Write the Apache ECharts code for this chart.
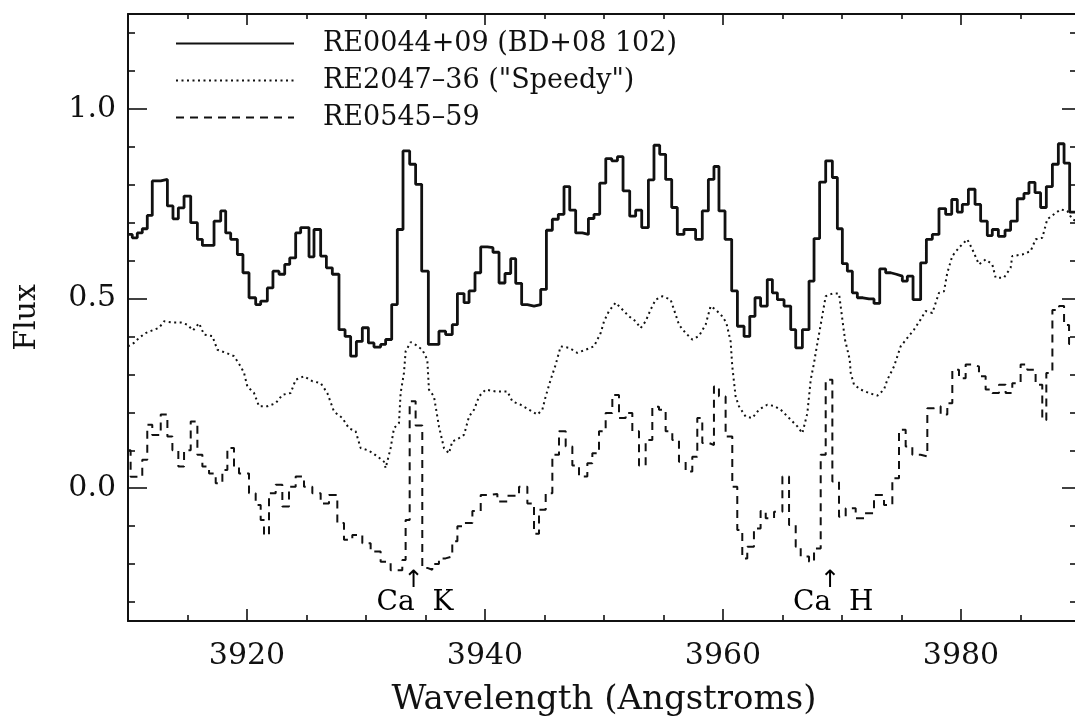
<!DOCTYPE html>
<html>
<head>
<meta charset="utf-8">
<script src="https://cdn.jsdelivr.net/npm/echarts@6/dist/echarts.min.js"></script>
<style>
html, body { margin: 0; padding: 0; background: #ffffff; }
#chart { width: 1075px; height: 722px; }
</style>
</head>
<body>
<div id="chart"></div>
<script>
// ---------------- data ----------------
const seriesNames = ['RE0044+09 (BD+08 102)', 'RE2047\u201336 ("Speedy")', 'RE0545\u201359'];

const xMajorTicks = [3920, 3940, 3960, 3980];
const xMinorTicks = [3915, 3925, 3930, 3935, 3945, 3950, 3955, 3965, 3970, 3975, 3985];
const yMajorTicks = [0, 0.5, 1.0];
const yMinorTicks = [-0.3, -0.2, -0.1, 0.1, 0.2, 0.3, 0.4, 0.6, 0.7, 0.8, 0.9, 1.1, 1.2];

// RE0044+09: bin left edges (Angstrom) and flux (histogram steps)
const solidWave = [3910.0, 3910.36, 3910.78, 3911.20, 3911.62, 3912.04, 3912.75, 3913.31, 3913.78, 3914.23,
  3914.71, 3915.27, 3915.83, 3916.25, 3917.23, 3917.79, 3918.21, 3918.63, 3919.19, 3919.66,
  3920.17, 3920.73, 3921.15, 3921.71, 3922.18, 3922.69, 3923.17, 3923.59, 3924.09, 3924.51,
  3925.21, 3925.63, 3926.19, 3926.67, 3927.17, 3927.73, 3928.24, 3928.71, 3929.19, 3929.69,
  3930.20, 3930.67, 3931.23, 3931.65, 3932.16, 3932.63, 3933.11, 3933.67, 3934.17, 3934.68,
  3935.24, 3936.13, 3936.69, 3937.25, 3937.68, 3938.24, 3938.66, 3939.16, 3939.64, 3940.20,
  3940.67, 3941.18, 3941.68, 3942.16, 3942.58, 3943.08, 3943.56, 3944.12, 3944.68, 3945.16,
  3945.66, 3946.16, 3946.64, 3947.12, 3947.62, 3948.18, 3948.69, 3949.16, 3949.64, 3950.15,
  3950.65, 3951.13, 3951.60, 3952.16, 3952.66, 3953.17, 3953.73, 3954.20, 3954.68, 3955.18,
  3955.69, 3956.16, 3956.72, 3957.20, 3957.70, 3958.26, 3958.77, 3959.24, 3959.66, 3960.17,
  3960.73, 3961.21, 3961.77, 3962.25, 3962.69, 3963.16, 3963.72, 3964.15, 3964.57, 3965.13,
  3965.69, 3966.11, 3966.67, 3967.23, 3967.65, 3968.12, 3968.63, 3969.19, 3969.61, 3970.03,
  3970.45, 3970.87, 3971.29, 3971.76, 3972.27, 3972.69, 3973.17, 3973.67, 3974.09, 3974.57,
  3975.07, 3975.49, 3975.97, 3976.61, 3977.09, 3977.59, 3978.15, 3978.71, 3979.22, 3979.69,
  3980.11, 3980.62, 3981.18, 3981.65, 3982.21, 3982.63, 3983.14, 3983.70, 3984.17, 3984.73,
  3985.29, 3985.71, 3986.22, 3986.69, 3987.17, 3987.68, 3988.18, 3988.66, 3989.13, 3990.0];
const solidFlux = [0.669, 0.660, 0.673, 0.684, 0.719, 0.810, 0.814, 0.744, 0.710, 0.739,
  0.770, 0.700, 0.656, 0.640, 0.704, 0.731, 0.673, 0.656, 0.616, 0.568,
  0.502, 0.484, 0.493, 0.528, 0.572, 0.564, 0.590, 0.607, 0.673, 0.687,
  0.610, 0.682, 0.612, 0.581, 0.564, 0.418, 0.400, 0.348, 0.387, 0.423,
  0.383, 0.372, 0.379, 0.392, 0.484, 0.682, 0.889, 0.854, 0.801, 0.572,
  0.379, 0.414, 0.405, 0.431, 0.513, 0.489, 0.520, 0.568, 0.636, 0.634,
  0.622, 0.541, 0.566, 0.605, 0.540, 0.484, 0.480, 0.484, 0.524, 0.680,
  0.709, 0.722, 0.795, 0.733, 0.673, 0.669, 0.711, 0.722, 0.804, 0.869,
  0.863, 0.874, 0.784, 0.717, 0.733, 0.687, 0.813, 0.904, 0.880, 0.814,
  0.740, 0.669, 0.682, 0.682, 0.656, 0.731, 0.814, 0.848, 0.731, 0.656,
  0.520, 0.427, 0.400, 0.453, 0.502, 0.480, 0.550, 0.515, 0.497, 0.480,
  0.418, 0.370, 0.418, 0.546, 0.658, 0.807, 0.863, 0.819, 0.684, 0.592,
  0.572, 0.515, 0.502, 0.499, 0.499, 0.487, 0.578, 0.568, 0.564, 0.559,
  0.546, 0.559, 0.497, 0.594, 0.656, 0.669, 0.737, 0.722, 0.761, 0.728,
  0.748, 0.788, 0.748, 0.704, 0.666, 0.682, 0.664, 0.680, 0.704, 0.763,
  0.777, 0.806, 0.779, 0.740, 0.795, 0.854, 0.908, 0.857, 0.728, 0.728];

// RE2047-36 ("Speedy")
const dottedWave = [3910.0, 3910.50, 3910.92, 3911.48, 3912.04, 3912.61, 3913.03, 3913.73, 3914.43, 3914.99,
  3915.46, 3915.97, 3916.39, 3917.09, 3917.51, 3918.21, 3918.91, 3919.47, 3919.75, 3920.03,
  3920.59, 3921.01, 3921.71, 3922.41, 3922.97, 3923.67, 3924.09, 3924.79, 3925.49, 3926.19,
  3926.75, 3927.31, 3928.01, 3928.57, 3929.13, 3929.55, 3930.25, 3930.95, 3931.51, 3931.65,
  3932.07, 3932.35, 3932.77, 3932.91, 3933.19, 3933.33, 3933.75, 3934.17, 3934.73, 3935.15,
  3935.29, 3935.71, 3936.13, 3936.55, 3936.97, 3937.25, 3937.82, 3938.24, 3938.66, 3939.08,
  3939.50, 3940.06, 3940.90, 3941.88, 3942.30, 3943.00, 3943.70, 3944.40, 3944.82, 3945.10,
  3945.52, 3945.94, 3946.36, 3947.06, 3947.76, 3948.46, 3949.16, 3949.72, 3950.00, 3950.42,
  3950.98, 3951.54, 3952.10, 3952.66, 3953.08, 3953.50, 3953.92, 3954.34, 3954.90, 3955.60,
  3955.88, 3956.30, 3956.86, 3957.42, 3957.98, 3958.54, 3958.96, 3959.38, 3959.94, 3960.28,
  3960.64, 3960.78, 3961.06, 3961.34, 3961.90, 3962.46, 3963.02, 3963.72, 3964.29, 3964.85,
  3965.55, 3966.25, 3966.67, 3967.09, 3967.37, 3967.65, 3967.79, 3968.21, 3968.63, 3969.19,
  3969.75, 3970.03, 3970.25, 3970.65, 3970.73, 3971.01, 3971.57, 3972.27, 3972.97, 3973.53,
  3973.81, 3974.23, 3974.37, 3974.93, 3975.49, 3976.05, 3976.61, 3977.03, 3977.59, 3978.15,
  3978.57, 3978.85, 3979.27, 3979.83, 3980.53, 3980.95, 3981.51, 3982.07, 3982.63, 3982.91,
  3983.61, 3984.17, 3984.31, 3985.15, 3985.85, 3986.27, 3986.83, 3987.25, 3987.81, 3988.37,
  3988.93, 3989.35, 3990.0];
const dottedFlux = [0.374, 0.383, 0.396, 0.409, 0.416, 0.423, 0.440, 0.437, 0.437, 0.431,
  0.416, 0.435, 0.405, 0.401, 0.365, 0.357, 0.348, 0.321, 0.304, 0.268,
  0.251, 0.216, 0.216, 0.224, 0.246, 0.251, 0.286, 0.295, 0.282, 0.277,
  0.251, 0.202, 0.185, 0.158, 0.150, 0.106, 0.099, 0.084, 0.070, 0.053,
  0.106, 0.158, 0.172, 0.251, 0.304, 0.361, 0.385, 0.378, 0.365, 0.339,
  0.260, 0.242, 0.163, 0.106, 0.092, 0.123, 0.132, 0.141, 0.189, 0.207,
  0.242, 0.260, 0.255, 0.255, 0.229, 0.220, 0.207, 0.194, 0.207, 0.242,
  0.286, 0.326, 0.374, 0.370, 0.357, 0.365, 0.374, 0.409, 0.440, 0.467,
  0.489, 0.471, 0.453, 0.440, 0.422, 0.440, 0.471, 0.497, 0.506, 0.497,
  0.471, 0.431, 0.409, 0.392, 0.401, 0.431, 0.480, 0.471, 0.453, 0.436,
  0.387, 0.321, 0.242, 0.216, 0.189, 0.185, 0.207, 0.220, 0.217, 0.207,
  0.185, 0.163, 0.145, 0.198, 0.286, 0.330, 0.357, 0.431, 0.506, 0.513,
  0.513, 0.445, 0.392, 0.339, 0.304, 0.273, 0.260, 0.251, 0.244, 0.260,
  0.286, 0.312, 0.321, 0.374, 0.396, 0.418, 0.445, 0.467, 0.462, 0.515,
  0.519, 0.568, 0.612, 0.634, 0.656, 0.630, 0.590, 0.603, 0.590, 0.555,
  0.555, 0.581, 0.612, 0.616, 0.625, 0.656, 0.660, 0.709, 0.722, 0.735,
  0.731, 0.709, 0.700];

// RE0545-59: bin left edges and flux (histogram steps)
const dashedWave = [3910.0, 3910.22, 3911.20, 3911.62, 3912.04, 3912.75, 3913.31, 3913.73, 3914.23, 3914.71,
  3915.27, 3915.83, 3916.25, 3916.81, 3917.37, 3917.93, 3918.35, 3918.91, 3919.33, 3920.17,
  3920.73, 3921.15, 3921.43, 3921.85, 3922.41, 3922.97, 3923.53, 3924.09, 3924.79, 3925.49,
  3926.19, 3926.89, 3927.59, 3928.15, 3928.85, 3929.69, 3930.39, 3931.23, 3932.07, 3933.05,
  3933.33, 3933.67, 3934.17, 3934.73, 3935.15, 3935.57, 3936.13, 3936.69, 3937.25, 3937.68,
  3938.24, 3938.94, 3939.64, 3940.20, 3941.04, 3941.88, 3942.86, 3943.56, 3944.12, 3944.54,
  3945.10, 3945.66, 3946.22, 3946.78, 3947.34, 3947.90, 3948.60, 3949.02, 3949.58, 3950.14,
  3950.70, 3951.26, 3951.82, 3952.38, 3952.94, 3953.50, 3954.06, 3954.62, 3955.18, 3955.74,
  3956.30, 3956.86, 3957.42, 3957.84, 3958.26, 3958.82, 3959.24, 3959.66, 3960.22, 3960.78,
  3961.20, 3961.62, 3962.04, 3962.60, 3963.16, 3963.59, 3964.29, 3964.99, 3965.55, 3966.11,
  3966.53, 3967.23, 3967.65, 3968.21, 3968.63, 3969.19, 3969.75, 3970.31, 3971.15, 3971.85,
  3972.69, 3973.53, 3974.23, 3974.79, 3975.35, 3975.91, 3976.61, 3977.17, 3977.73, 3978.29,
  3978.85, 3979.27, 3979.83, 3980.39, 3980.95, 3981.51, 3982.07, 3982.63, 3983.19, 3983.75,
  3984.31, 3985.01, 3985.57, 3986.27, 3986.83, 3987.17, 3987.68, 3988.24, 3988.66, 3989.08,
  3990.0];
const dashedFlux = [0.100, 0.030, 0.075, 0.167, 0.140, 0.194, 0.136, 0.100, 0.057, 0.100,
  0.176, 0.088, 0.057, 0.039, 0.013, 0.048, 0.106, 0.057, 0.039, -0.013,
  -0.044, -0.084, -0.123, -0.013, 0.009, -0.048, 0.004, 0.031, 0.004, -0.013,
  -0.040, -0.018, -0.092, -0.136, -0.123, -0.145, -0.167, -0.194, -0.216, -0.189,
  -0.084, 0.229, 0.165, -0.210, -0.215, -0.200, -0.185, -0.180, -0.140, -0.100,
  -0.092, -0.060, -0.018, -0.015, -0.035, -0.020, 0.004, -0.040, -0.120, -0.057,
  -0.013, 0.088, 0.150, 0.110, 0.060, 0.031, 0.066, 0.092, 0.150, 0.198,
  0.246, 0.185, 0.198, 0.150, 0.060, 0.127, 0.215, 0.207, 0.150, 0.127,
  0.070, 0.044, 0.083, 0.185, 0.119, 0.114, 0.268, 0.242, 0.136, 0.004,
  -0.110, -0.185, -0.154, -0.106, -0.060, -0.079, -0.062, 0.031, -0.097, -0.154,
  -0.180, -0.194, -0.159, 0.088, 0.286, 0.018, -0.075, -0.053, -0.079, -0.066,
  -0.018, -0.044, 0.026, 0.154, 0.110, 0.088, 0.084, 0.211, 0.216, 0.194,
  0.224, 0.312, 0.290, 0.326, 0.321, 0.295, 0.260, 0.251, 0.273, 0.251,
  0.277, 0.326, 0.312, 0.273, 0.180, 0.304, 0.470, 0.480, 0.430, 0.380,
  0.380];

// Line identifications
const lineElement = ['Ca', 'Ca'];
const lineIon = ['K', 'H'];
const lineWave = [3934.0, 3969.0];
const lineTextFlux = -0.303;
const lineArrowFlux = -0.245;

// ---------------- chart ----------------
const SERIF = 'DejaVu Serif';
const INK = '#111111';
const X_MIN = 3910, X_MAX = 3990, Y_MIN = -0.35, Y_MAX = 1.25;

function pairs(xs, ys) { return xs.map((x, i) => [x, ys[i]]); }

function xAxisDef(position, ticks, len, main) {
  return {
    type: 'value', position: position, min: X_MIN, max: X_MAX,
    splitLine: { show: false },
    axisLine: { show: !!main, onZero: false, lineStyle: { color: INK, width: 2 } },
    axisTick: { show: true, inside: true, length: len, customValues: ticks,
      lineStyle: { color: INK, width: 1.6 } },
    axisLabel: (main && position === 'bottom') ? {
      show: true, customValues: xMajorTicks, margin: 20,
      fontFamily: SERIF, fontSize: 30, color: INK,
      formatter: v => String(v)
    } : { show: false },
    name: (main && position === 'bottom') ? 'Wavelength (Angstroms)' : '',
    nameLocation: 'middle', nameGap: 62,
    nameTextStyle: { fontFamily: SERIF, fontSize: 34, color: INK }
  };
}

function yAxisDef(position, ticks, len, main) {
  return {
    type: 'value', position: position, min: Y_MIN, max: Y_MAX,
    splitLine: { show: false },
    axisLine: { show: !!main, onZero: false, lineStyle: { color: INK, width: 2 } },
    axisTick: { show: true, inside: true, length: len, customValues: ticks,
      lineStyle: { color: INK, width: 1.6 } },
    axisLabel: (main && position === 'left') ? {
      show: true, customValues: yMajorTicks, margin: 12,
      fontFamily: SERIF, fontSize: 30, color: INK,
      formatter: v => Number(v).toFixed(1)
    } : { show: false },
    name: (main && position === 'left') ? 'Flux' : '',
    nameLocation: 'middle', nameGap: 86, nameRotate: 90,
    nameTextStyle: { fontFamily: SERIF, fontSize: 30, color: INK }
  };
}

function labelSeries(formatterArr, flux, align, offset, fontSize, fontFamily) {
  return {
    type: 'scatter', silent: true, symbol: 'circle', symbolSize: 1,
    itemStyle: { color: 'rgba(0,0,0,0)', opacity: 1 },
    emphasis: { disabled: true },
    data: lineWave.map(w => [w, flux]),
    label: {
      show: true, position: 'inside', align: align, verticalAlign: 'middle',
      offset: offset, color: '#000000', opacity: 1, fontSize: fontSize, fontFamily: fontFamily,
      textBorderWidth: 0,
      formatter: p => formatterArr[p.dataIndex]
    },
    z: 5
  };
}

const chart = echarts.init(document.getElementById('chart'), null, { renderer: 'canvas' });
chart.setOption({
  animation: false,
  backgroundColor: '#ffffff',
  grid: { left: 128, top: 14, width: 952, height: 607, containLabel: false, outerBoundsMode: 'none' },
  xAxis: [
    xAxisDef('bottom', xMajorTicks, 12, true),
    xAxisDef('bottom', xMinorTicks, 6, false),
    xAxisDef('top', xMajorTicks, 11, true),
    xAxisDef('top', xMinorTicks, 5, false)
  ],
  yAxis: [
    yAxisDef('left', yMajorTicks, 19, true),
    yAxisDef('left', yMinorTicks, 7, false),
    yAxisDef('right', yMajorTicks, 18, true),
    yAxisDef('right', yMinorTicks, 10, false)
  ],
  legend: {
    data: seriesNames,
    orient: 'vertical', left: 175, top: 30, padding: 0,
    itemWidth: 118, itemHeight: 14, itemGap: 10,
    selectedMode: false,
    itemStyle: { color: 'rgba(0,0,0,0)', opacity: 0, borderWidth: 0 },
    textStyle: { fontFamily: SERIF, fontSize: 27, color: INK, lineHeight: 27,
      padding: [0, 0, 0, 24] }
  },
  series: [
    {
      name: seriesNames[0], type: 'line', step: 'end', symbol: 'none',
      data: pairs(solidWave, solidFlux),
      lineStyle: { color: INK, width: 2.8, type: 'solid' },
      itemStyle: { color: INK }, z: 4
    },
    {
      name: seriesNames[1], type: 'line', symbol: 'none',
      data: pairs(dottedWave, dottedFlux),
      lineStyle: { color: INK, width: 2, type: [2, 3.5] },
      itemStyle: { color: INK }, z: 3
    },
    {
      name: seriesNames[2], type: 'line', step: 'end', symbol: 'none',
      data: pairs(dashedWave, dashedFlux),
      lineStyle: { color: INK, width: 2, type: [8, 6] },
      itemStyle: { color: INK }, z: 3
    },
    labelSeries(lineElement, lineTextFlux, 'right', [1, 0], 28, SERIF),
    labelSeries(lineIon, lineTextFlux, 'left', [19, 0], 28, SERIF),
    labelSeries(['\u2191', '\u2191'], lineArrowFlux, 'center', [0, 0], 24, 'DejaVu Sans')
  ]
});
</script>
</body>
</html>
